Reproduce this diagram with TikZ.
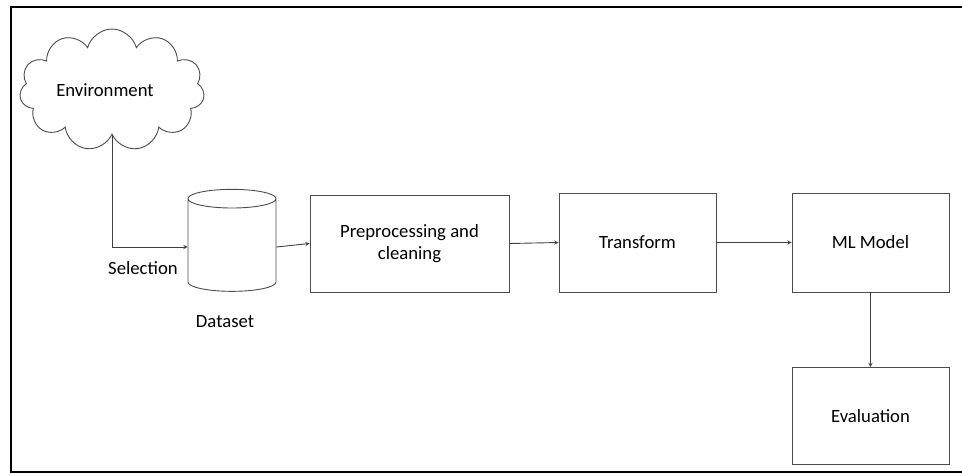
\documentclass[tikz,border=0pt]{standalone}
\usepackage{fontspec}
\setmainfont{Carlito}
\usetikzlibrary{positioning}
\usetikzlibrary{shapes.symbols,shapes.geometric}
\usetikzlibrary{arrows}

\begin{document}
\begin{tikzpicture}[x=1pt,y=-1pt
  ,every node/.style={font=\fontsize{18.7}{22}\selectfont}
  ,stage/.style={draw=black!70,line width=0.9pt,align=center,inner sep=0pt}
  ,link/.style={-stealth,draw=black!75,line width=0.9pt}
  ]
\useasboundingbox (0,0) rectangle (962,475);
\draw[line width=2pt] (962,7) -- (11,7) -- (11,472) -- (962,472);

\node[cloud,draw=black!70,line width=0.9pt,cloud puffs=11,aspect=1.5
     ,minimum width=185,minimum height=122] (env) at (112,90) {\hspace*{-14pt}Environment};
\node[cylinder,draw=black!70,line width=0.9pt,shape border rotate=90,aspect=2.8
     ,minimum width=88,minimum height=102] (data) at (232,247) {};
\node[stage,minimum width=199,minimum height=97] (prep) at (409.5,243.5) {Preprocessing and\\cleaning};
\node[stage,minimum width=157,minimum height=99] (trans) at (637.5,242.5) {Transform};
\node[stage,minimum width=157,minimum height=99] (ml) at (870.5,242.5) {ML Model};
\node[stage,minimum width=157,minimum height=97] (eval) at (870.5,416) {Evaluation};

\node (sel) at (143,268) {Selection};
\node (dlabel) at (225,322) {Dataset};

\draw[link] (env.south) |- (data.west);
\draw[link] (data.east) -- (prep.west);
\draw[link] (prep.east) -- (trans.west);
\draw[link] (trans.east) -- (ml.west);
\draw[link] (ml.south) -- (eval.north);
\end{tikzpicture}
\end{document}
